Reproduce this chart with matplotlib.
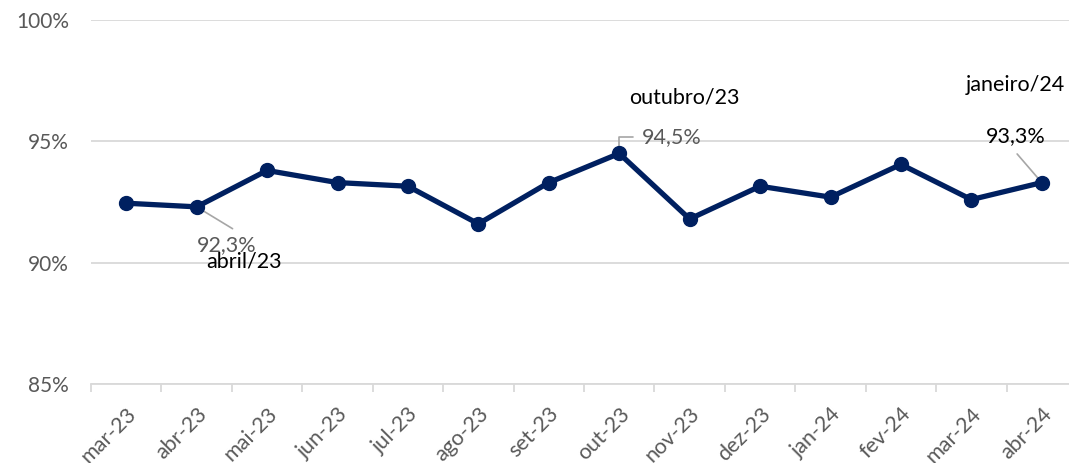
import matplotlib
matplotlib.use("Agg")
import matplotlib.pyplot as plt
from matplotlib.ticker import FixedLocator

months = ["mar-23", "abr-23", "mai-23", "jun-23", "jul-23", "ago-23", "set-23",
          "out-23", "nov-23", "dez-23", "jan-24", "fev-24", "mar-24", "abr-24"]
values = [92.45, 92.3, 93.8, 93.3, 93.15, 91.6, 93.3,
          94.5, 91.8, 93.15, 92.7, 94.05, 92.6, 93.3]
yticks = [85, 90, 95, 100]
ytick_labels = ["85%", "90%", "95%", "100%"]

plt.rcParams['font.family'] = ['Lato', 'DejaVu Sans']

fig = plt.figure(figsize=(10.69, 4.63), dpi=100)
ax = fig.add_axes([91/1069, 1-384/463, 986/1069, (384-20)/463])

x = list(range(len(months)))
navy = "#002060"
ax.plot(x, values, color=navy, lw=3.8, marker="o", ms=10, zorder=3,
        solid_joinstyle="round")

ax.set_ylim(85, 100)
ax.set_xlim(-0.5, len(months) - 0.5)
ax.set_yticks(yticks)
ax.set_yticklabels(ytick_labels)
ax.grid(axis="y", color="#d9d9d9", lw=1.3)
ax.set_axisbelow(True)
for s in ["top", "right", "left"]:
    ax.spines[s].set_visible(False)
ax.spines["bottom"].set_color("#d9d9d9")
ax.spines["bottom"].set_linewidth(1.3)

ax.set_xticks(x)
ax.set_xticklabels(months, rotation=45, ha="right", rotation_mode="anchor")
ax.xaxis.set_minor_locator(FixedLocator([i - 0.5 for i in range(len(months) + 1)]))
ax.tick_params(axis="x", which="major", length=0, pad=14, labelsize=15.5, labelcolor="#595959")
ax.tick_params(axis="x", which="minor", length=6, color="#d9d9d9", width=1.3)
ax.tick_params(axis="y", length=0, pad=16, labelsize=15, labelcolor="#595959")

grey = "#595959"
lead = "#a6a6a6"
fs = 15.5

def fmt(v):
    return f"{v:.1f}%".replace(".", ",")

# abril/23
i = 1
ax.annotate("", xy=(x[i], values[i]), xytext=(x[i] + 0.51, values[i] - 0.9),
            arrowprops=dict(arrowstyle="-", color=lead, lw=1.2, shrinkA=0, shrinkB=0),
            zorder=2)
ax.text(x[i] + 0.43, values[i] - 1.57, fmt(values[i]), color=grey, fontsize=fs,
        ha="center", va="center")
ax.text(x[i] + 0.68, values[i] - 2.27, "abril/23", color="black", fontsize=fs,
        ha="center", va="center")

# outubro/23
i = 7
ax.annotate("", xy=(x[i], values[i]), xytext=(x[i] + 0.2, values[i] + 0.68),
            arrowprops=dict(arrowstyle="-", color=lead, lw=1.2,
                            connectionstyle="angle,angleA=0,angleB=90,rad=0",
                            shrinkA=0, shrinkB=3),
            zorder=2)
ax.text(x[i] + 0.32, values[i] + 0.66, fmt(values[i]), color=grey, fontsize=fs,
        ha="left", va="center")
ax.text(x[i] + 0.92, values[i] + 2.31, "outubro/23", color="black", fontsize=fs,
        ha="center", va="center")

# janeiro/24
i = 13
ax.annotate("", xy=(x[i], values[i]), xytext=(x[i] - 0.35, values[i] + 1.18),
            arrowprops=dict(arrowstyle="-", color=lead, lw=1.2, shrinkA=0, shrinkB=5),
            zorder=2)
ax.text(x[i] - 0.37, values[i] + 1.9, fmt(values[i]), color="black", fontsize=fs,
        ha="center", va="center")
ax.text(x[i] - 0.37, values[i] + 4.04, "janeiro/24", color="black", fontsize=fs,
        ha="center", va="center")

fig.savefig("out.png", dpi=100)
